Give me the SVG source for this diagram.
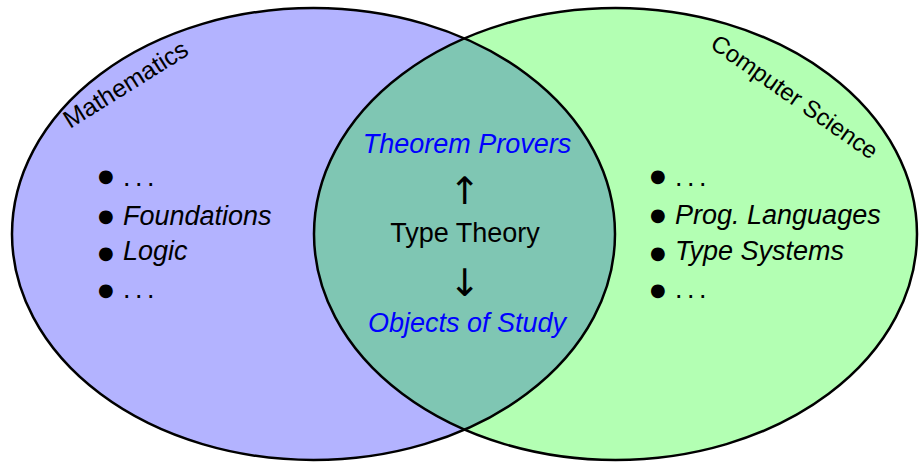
<svg xmlns="http://www.w3.org/2000/svg" width="920" height="462" viewBox="0 0 920 462">
<style>
.t{font-family:"Liberation Sans",Arial,sans-serif;font-size:27px;fill:#000}
.d{letter-spacing:-1.5px}
.i{font-style:italic}
.b{fill:#0000ff}
.lab{font-family:"Liberation Sans",Arial,sans-serif;font-size:25px;fill:#000}
.ar{font-family:"DejaVu Sans",sans-serif;font-size:38px;fill:#000}
.bul{font-family:"DejaVu Sans",sans-serif;font-size:18px;fill:#000}
.edge{fill:none;stroke:#000;stroke-width:2.5}
</style>
<defs>
<clipPath id="clipL"><ellipse cx="313.5" cy="234" rx="301.5" ry="226"/></clipPath>
</defs>
<rect width="920" height="462" fill="#fff"/>
<g id="mathematics">
<ellipse cx="313.5" cy="234" rx="301.5" ry="226" fill="#b3b3ff"/>
</g>
<g id="computer-science">
<ellipse cx="615.5" cy="234" rx="301.5" ry="226" fill="#b3ffb3"/>
</g>
<g id="type-theory">
<ellipse cx="615.5" cy="234" rx="301.5" ry="226" fill="#7fc6b3" clip-path="url(#clipL)"/>
</g>
<g id="outlines">
<ellipse class="edge" cx="313.5" cy="234" rx="301.5" ry="226"/>
<ellipse class="edge" cx="615.5" cy="234" rx="301.5" ry="226"/>
</g>
<g id="labels">
<text class="lab" transform="translate(70,129) rotate(-32)">Mathematics</text>
<text class="lab" style="font-size:24px" transform="translate(709,47) rotate(35)">Computer Science</text>
</g>
<g id="left-list">
<text class="bul" x="98" y="181.5">●</text><text class="t d" x="123" y="186">. . .</text>
<text class="bul" x="98" y="221.5">●</text><text class="t i" x="123" y="225">Foundations</text>
<text class="bul" x="98" y="258.5">●</text><text class="t i" x="123" y="260">Logic</text>
<text class="bul" x="98" y="295.5">●</text><text class="t d" x="123" y="298">. . .</text>
</g>
<g id="right-list">
<text class="bul" x="650" y="181.5">●</text><text class="t d" x="675" y="186">. . .</text>
<text class="bul" x="650" y="221">●</text><text class="t i" x="675" y="224">Prog. Languages</text>
<text class="bul" x="650" y="258.5">●</text><text class="t i" x="675" y="260">Type Systems</text>
<text class="bul" x="650" y="295.5">●</text><text class="t d" x="675" y="298">. . .</text>
</g>
<g id="center">
<text class="t i b" x="467" y="153" text-anchor="middle">Theorem Provers</text>
<text class="ar" x="465" y="204" text-anchor="middle">↑</text>
<text class="t" x="465" y="242" text-anchor="middle">Type Theory</text>
<text class="ar" x="465" y="296" text-anchor="middle">↓</text>
<text class="t i b" x="467" y="332" text-anchor="middle">Objects of Study</text>
</g>
</svg>
